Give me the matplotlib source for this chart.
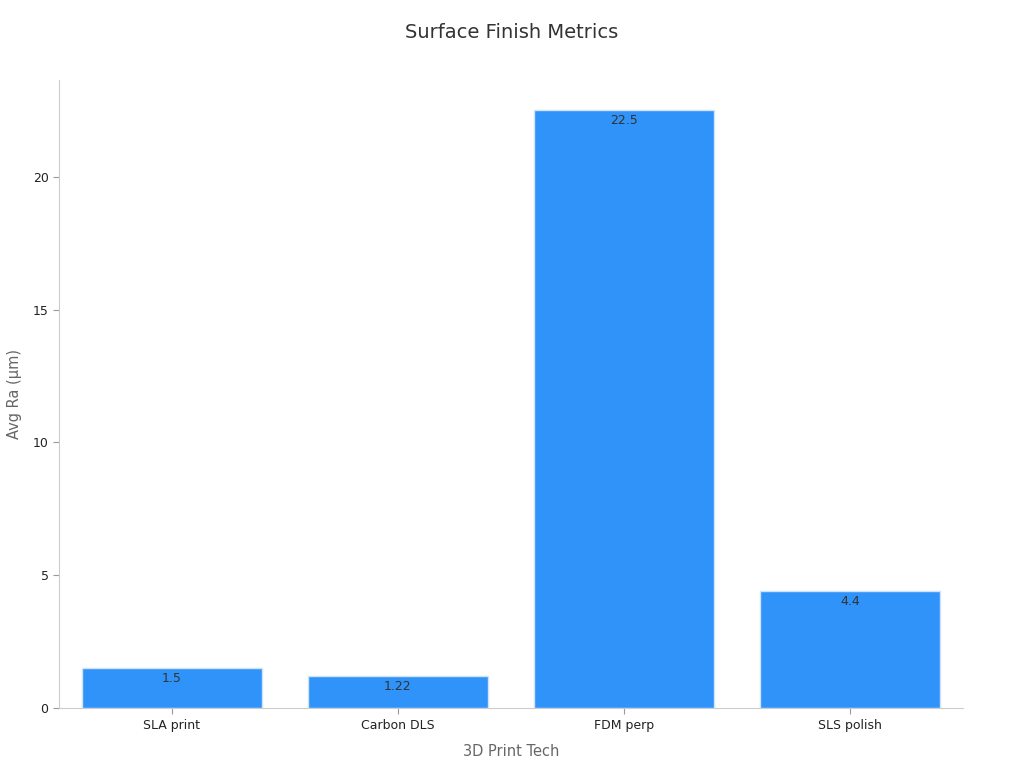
import matplotlib
matplotlib.use("Agg")
import matplotlib.pyplot as plt

# chart data
techs = ["SLA print", "Carbon DLS", "FDM perp", "SLS polish"]
avg_ra = [1.5, 1.22, 22.5, 4.4]
labels = ["1.5", "1.22", "22.5", "4.4"]

fig = plt.figure(figsize=(10.24, 7.68), dpi=100)
ax = fig.add_axes([0.0576, 0.078, 0.8828, 0.818])

x = range(len(techs))
bars = ax.bar(x, avg_ra, width=0.8, color="#2f93fa", edgecolor="#cfe4fb", linewidth=1)

for rect, lab in zip(bars, labels):
    ax.text(rect.get_x() + rect.get_width() / 2, rect.get_height() - 0.15, lab,
            ha="center", va="top", fontsize=9, color="#333333")

ax.set_xlim(-0.5, 3.5)
ax.set_ylim(0, 23.65)
ax.set_yticks([0, 5, 10, 15, 20])
ax.set_xticks(list(x))
ax.set_xticklabels(techs)
ax.tick_params(axis="both", labelsize=9, colors="#222222", length=4)
ax.tick_params(axis="both", color="#999999")

for side in ["top", "right"]:
    ax.spines[side].set_visible(False)
for side in ["left", "bottom"]:
    ax.spines[side].set_color("#cccccc")

ax.set_xlabel("3D Print Tech", fontsize=10.5, color="#666666", labelpad=9)
ax.set_ylabel("Avg Ra (µm)", fontsize=10.5, color="#666666", labelpad=8)
fig.suptitle("Surface Finish Metrics", fontsize=14, color="#333333", y=0.97)

fig.savefig("out.png", dpi=100)
